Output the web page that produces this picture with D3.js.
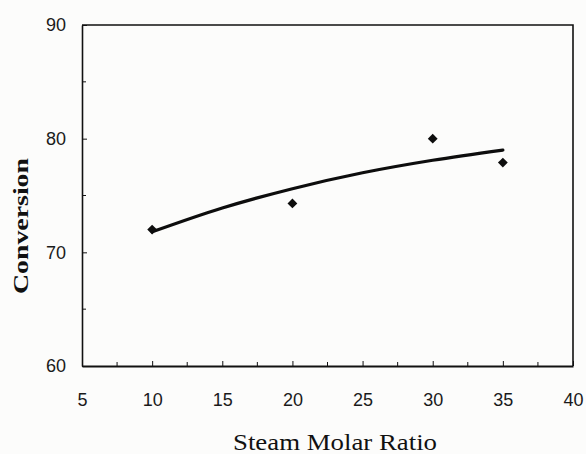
<!DOCTYPE html>
<html lang="en">
    <head>
        <meta charset="utf-8">
        <title>Conversion vs Steam Molar Ratio</title>
        <script type="text/javascript" src="https://cdn.jsdelivr.net/npm/d3@7"></script>
        <style type="text/css">
            body { margin: 0; background: #fcfcfb; }
            .tick text { font-family: "Liberation Sans", Arial, sans-serif; font-size: 18px; fill: #1a1a1a; }
            .axis path, .axis line { stroke: #111; }
        </style>
    </head>
    <body>
        <script type="text/javascript">

            // measured points
            var ratio = [10, 20, 30, 35];
            var conversion = [72.0, 74.3, 80.0, 77.9];

            // fitted trend line
            var fitRatio = [10, 15, 20, 25, 30, 35];
            var fitConversion = [71.8, 73.9, 75.6, 77.0, 78.1, 79.0];

            var xTicks = [5, 10, 15, 20, 25, 30, 35, 40];
            var xMinor = [7.5, 12.5, 17.5, 22.5, 27.5, 32.5, 37.5];
            var yTicks = [60, 70, 80, 90];
            var yMinor = [65, 75, 85];

            var w = 586;
            var h = 454;

            var svg = d3.select("body")
                        .append("svg")
                        .attr("width", w)
                        .attr("height", h);

            var x = d3.scaleLinear().domain([5, 40]).range([82, 573]);
            var y = d3.scaleLinear().domain([60, 90]).range([366, 25]);

            // frame top + right
            svg.append("path")
                .attr("d", "M" + x(5) + "," + y(90) + "H" + x(40) + "V" + y(60))
                .attr("fill", "none")
                .attr("stroke", "#111")
                .attr("stroke-width", 1.6);

            // x axis
            var xAxis = svg.append("g")
                    .attr("class", "axis")
                    .attr("transform", "translate(0," + y(60) + ")")
                    .call(d3.axisBottom(x).tickValues(xTicks).tickSizeInner(-5).tickSizeOuter(0).tickPadding(27));
            xAxis.select(".domain").attr("stroke-width", 2.2);

            xAxis.selectAll(".minor")
                .data(xMinor)
                .enter().append("line")
                .attr("x1", function(d){ return x(d); })
                .attr("x2", function(d){ return x(d); })
                .attr("y1", 0)
                .attr("y2", -4)
                .attr("stroke", "#111");

            // y axis
            var yAxis = svg.append("g")
                    .attr("class", "axis")
                    .attr("transform", "translate(" + x(5) + ",0)")
                    .call(d3.axisLeft(y).tickValues(yTicks).tickSizeInner(-5).tickSizeOuter(0).tickPadding(16));
            yAxis.select(".domain").attr("stroke-width", 1.6);

            yAxis.selectAll(".minor")
                .data(yMinor)
                .enter().append("line")
                .attr("x1", 0)
                .attr("x2", 4)
                .attr("y1", function(d){ return y(d); })
                .attr("y2", function(d){ return y(d); })
                .attr("stroke", "#111");

            // trend line
            var line = d3.line()
                    .x(function(d, i){ return x(fitRatio[i]); })
                    .y(function(d){ return y(d); })
                    .curve(d3.curveMonotoneX);

            svg.append("path")
                .datum(fitConversion)
                .attr("d", line)
                .attr("fill", "none")
                .attr("stroke", "#0d0d0d")
                .attr("stroke-width", 3.2)
                .attr("stroke-linecap", "round");

            // diamond markers (square turned 45deg)
            var diamond = d3.symbol().type(d3.symbolSquare).size(48);
            svg.selectAll(".pt")
                .data(conversion)
                .enter().append("path")
                .attr("class", "pt")
                .attr("d", diamond)
                .attr("transform", function(d, i){ return "translate(" + x(ratio[i]) + "," + y(d) + ") rotate(45)"; })
                .attr("fill", "#0d0d0d");

            // axis titles
            svg.append("text")
                .attr("transform", "translate(28," + 226 + ") rotate(-90)")
                .attr("text-anchor", "middle")
                .attr("textLength", 136)
                .attr("lengthAdjust", "spacingAndGlyphs")
                .style("font-family", "'Liberation Serif', 'Times New Roman', serif")
                .style("font-weight", "bold")
                .style("font-size", "22px")
                .attr("fill", "#111")
                .text("Conversion");

            svg.append("text")
                .attr("x", 335)
                .attr("y", 450)
                .attr("text-anchor", "middle")
                .attr("textLength", 204)
                .attr("lengthAdjust", "spacingAndGlyphs")
                .style("font-family", "'Liberation Serif', 'Times New Roman', serif")
                .style("font-size", "24px")
                .attr("fill", "#111")
                .text("Steam Molar Ratio");

        </script>
    </body>
</html>
